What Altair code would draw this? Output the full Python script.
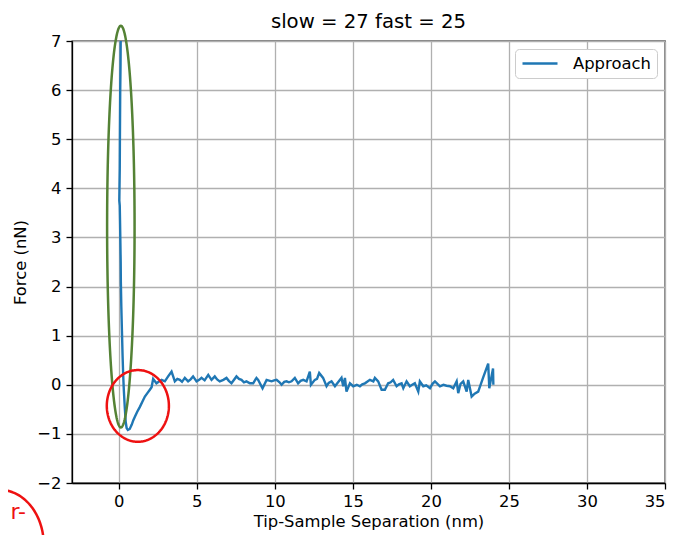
import altair as alt
import numpy as np
import pandas as pd

# ---- data ----
sep_nm = [
    0.12, 0.11, 0.09, 0.08, 0.07, 0.06, 0.03, 0.06, 0.08, 0.10, 0.12, 0.13, 0.16, 0.20, 0.24,
    0.28, 0.32, 0.38, 0.44, 0.50, 0.58,
    0.70, 0.83, 0.93, 1.03, 1.18, 1.35, 1.50, 1.67, 1.83, 1.99, 2.10, 2.20, 2.41, 2.74, 2.95,
    3.16, 3.38, 3.59, 3.75, 3.91, 4.05, 4.23, 4.44, 4.60, 4.76, 4.98, 5.15, 5.30, 5.50, 5.73,
    5.94, 6.15, 6.30, 6.47, 6.70, 6.90, 7.05, 7.22, 7.54, 7.70, 7.86, 8.02, 8.18, 8.40, 8.61,
    8.82, 8.93, 9.21, 9.47, 9.79, 9.95, 10.11, 10.30, 10.43, 10.60, 10.75, 10.90, 11.07, 11.28,
    11.49, 11.65, 11.82, 12.03, 12.24, 12.31, 12.56, 12.70, 12.84, 13.09, 13.31, 13.45, 13.63,
    13.85, 14.05, 14.27, 14.38, 14.49, 14.59, 14.81, 15.02, 15.25, 15.45, 15.60, 15.77, 16.09,
    16.31, 16.41, 16.62, 16.84, 17.05, 17.26, 17.42, 17.58, 17.80, 17.95, 18.12, 18.23, 18.44,
    18.65, 18.80, 18.97, 19.19, 19.29, 19.51, 19.70, 19.94, 20.10, 20.26, 20.58, 20.80, 21.00,
    21.22, 21.43, 21.65, 21.75, 21.90, 22.07, 22.29, 22.39, 22.61, 22.80, 23.03, 23.35, 23.67,
    23.74, 23.98, 24.00,
]
force_nN = [
    7.00, 6.50, 6.00, 5.50, 5.00, 4.40, 3.75, 3.65, 3.30, 2.90, 2.50, 2.10, 1.60, 1.10, 0.60,
    0.20, -0.10, -0.45, -0.75, -0.88, -0.92,
    -0.90, -0.81, -0.72, -0.65, -0.55, -0.45, -0.35, -0.24, -0.17, -0.10, -0.05, 0.12, 0.03, 0.10, 0.07,
    0.17, 0.27, 0.07, 0.12, 0.10, 0.06, 0.14, 0.07, 0.11, 0.17, 0.07, 0.10, 0.14, 0.09, 0.20,
    0.10, 0.17, 0.11, 0.07, 0.10, 0.14, 0.08, 0.03, 0.17, 0.12, 0.10, 0.05, 0.07, 0.03, 0.03,
    0.14, 0.10, -0.07, 0.10, 0.07, 0.09, 0.10, 0.05, 0.00, 0.06, 0.07, 0.05, 0.07, 0.14,
    0.03, 0.08, 0.10, 0.07, 0.27, 0.00, 0.10, 0.12, 0.24, 0.14, -0.03, 0.04, 0.07,
    -0.03, 0.05, 0.14, -0.03, 0.14, -0.14, 0.03, -0.03, 0.00, -0.03, 0.01, 0.03, 0.10,
    0.07, 0.14, 0.07, -0.10, -0.10, 0.03, 0.05, 0.10, -0.03, 0.01, 0.03, -0.07, 0.07,
    -0.03, 0.00, 0.03, -0.14, 0.07, -0.03, -0.01, -0.07, 0.02, 0.07, -0.03, 0.00, -0.02,
    -0.03, -0.07, 0.07, -0.17, 0.02, 0.07, -0.14, 0.10, -0.24, -0.18, -0.14, 0.15, 0.43,
    -0.07, 0.33, 0.00,
]
series_name = "Approach"
chart_title = "slow = 27 fast = 25"

# annotation shapes drawn over the figure: (center x, center y, radius x, radius y, colour)
green_ellipse = (0.13, 3.22, 0.88, 4.09, "#548235")
red_ellipse = (1.22, -0.43, 1.99, 0.73, "#ee1111")
red_arc = (-7.63, -3.26, 2.82, 1.12, "#ee1111")
red_text = ("r-", -5.95, -2.73)

FONT = "DejaVu Sans"

line_df = pd.DataFrame({"x": sep_nm, "y": force_nN, "i": range(len(sep_nm)), "s": series_name})


def ellipse_df(params):
    cx, cy, rx, ry, _ = params
    t = np.linspace(0, 2 * np.pi, 181)
    return pd.DataFrame({"x": cx + rx * np.cos(t), "y": cy + ry * np.sin(t), "i": range(len(t))})


xscale = alt.Scale(domain=[-3, 35], nice=False, zero=False)
yscale = alt.Scale(domain=[-2, 7], nice=False, zero=False)
minus_expr = "replace(datum.label, '-', '\u2212')"

base_line = alt.Chart(line_df).mark_line(strokeWidth=2.4, clip=False).encode(
    x=alt.X("x:Q", scale=xscale,
            axis=alt.Axis(title="Tip-Sample Separation (nm)", values=[0, 5, 10, 15, 20, 25, 30, 35],
                          labelExpr=minus_expr)),
    y=alt.Y("y:Q", scale=yscale,
            axis=alt.Axis(title="Force (nN)", values=list(range(-2, 8)), labelExpr=minus_expr)),
    order="i:Q",
    color=alt.Color("s:N", scale=alt.Scale(range=["#1f77b4"]),
                    legend=alt.Legend(title=None, orient="top-right", offset=8,
                                      symbolType="M-1,0H4", symbolSize=196, symbolStrokeWidth=2.5,
                                      labelFontSize=16.4, labelFont=FONT, labelColor="black",
                                      labelOffset=35, padding=6, fillColor="white",
                                      strokeColor="#cccccc", cornerRadius=4)),
)


def ellipse_layer(params):
    return alt.Chart(ellipse_df(params)).mark_line(strokeWidth=2.5, clip=False).encode(
        x=alt.X("x:Q", scale=xscale), y=alt.Y("y:Q", scale=yscale), order="i:Q",
        color=alt.value(params[4]),
    )


text_layer = alt.Chart(pd.DataFrame({"t": [red_text[0]], "x": [red_text[1]], "y": [red_text[2]]})).mark_text(
    font=FONT, fontSize=22, color="#ee1111", align="right", baseline="alphabetic", clip=False
).encode(x=alt.X("x:Q", scale=xscale), y=alt.Y("y:Q", scale=yscale), text="t:N")

chart = alt.layer(
    base_line, ellipse_layer(green_ellipse), ellipse_layer(red_ellipse), ellipse_layer(red_arc), text_layer
).properties(
    width=593, height=442,
    title=alt.TitleParams(chart_title, font=FONT, fontSize=19.7, fontWeight="normal",
                          color="black", offset=-11, anchor="middle", frame="group"),
    autosize=alt.AutoSizeParams(type="none"),
    padding={"left": 64, "top": 33, "right": 7, "bottom": 60},
).configure_view(
    stroke="black", strokeWidth=1.3
).configure_axis(
    labelFont=FONT, labelFontSize=16.4, labelColor="black", titleFont=FONT, titleFontSize=16.4,
    titleFontWeight="normal", titleColor="black", domainColor="black", domainWidth=1.3,
    tickColor="black", tickWidth=1.3, tickSize=6, labelPadding=4, gridColor="#b0b0b0",
    gridWidth=1.3, grid=True,
).configure_axisY(titlePadding=8, labelPadding=5).configure_axisX(titlePadding=4)

chart.save("out.html", embed_options={"renderer": "svg", "actions": False})
